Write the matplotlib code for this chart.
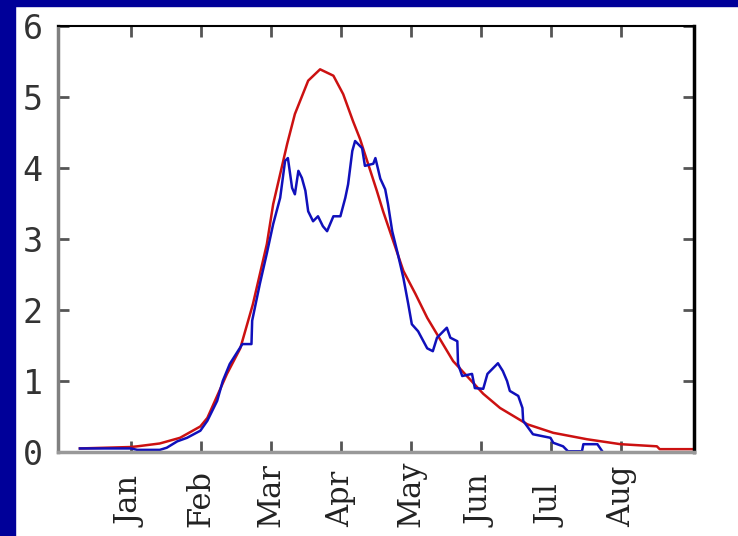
import matplotlib
matplotlib.use("Agg")
import matplotlib.pyplot as plt
from matplotlib.patches import Rectangle

#
# Datos (x en meses, 1 = Jan)
#
months = ["Jan", "Feb", "Mar", "Apr", "May", "Jun", "Jul", "Aug"]
month_pos = [1, 2, 3, 4, 5, 6, 7, 8]
y_ticks = [0, 1, 2, 3, 4, 5, 6]

fit_x = [0.27, 0.99, 1.09, 1.41, 1.70, 1.99, 2.09, 2.37, 2.56, 2.74, 2.94,
         3.03, 3.23, 3.34, 3.53, 3.70, 3.89, 4.03, 4.17, 4.27, 4.51, 4.60,
         4.89, 5.06, 5.23, 5.60, 6.03, 6.27, 6.66, 7.03, 7.51, 7.99, 8.51,
         8.55, 9.04]
fit_y = [0.05, 0.07, 0.08, 0.12, 0.20, 0.36, 0.48, 1.10, 1.46, 2.08, 2.93,
         3.49, 4.34, 4.76, 5.23, 5.39, 5.30, 5.04, 4.66, 4.41, 3.68, 3.39,
         2.55, 2.23, 1.89, 1.28, 0.82, 0.62, 0.39, 0.27, 0.18, 0.11, 0.08,
         0.04, 0.04]

obs_x = [0.27, 1.00, 1.09, 1.41, 1.51, 1.66, 1.80, 1.99, 2.09, 2.23, 2.31,
         2.41, 2.59, 2.72, 2.73, 2.84, 2.94, 3.03, 3.13, 3.20, 3.24, 3.30,
         3.34, 3.39, 3.44, 3.49, 3.53, 3.60, 3.67, 3.74, 3.80, 3.89, 3.99,
         4.06, 4.10, 4.16, 4.20, 4.30, 4.34, 4.46, 4.49, 4.56, 4.63, 4.67,
         4.73, 4.81, 4.89, 4.96, 5.01, 5.10, 5.23, 5.31, 5.37, 5.46, 5.51,
         5.56, 5.66, 5.67, 5.73, 5.87, 5.91, 6.03, 6.09, 6.17, 6.24, 6.31,
         6.37, 6.41, 6.53, 6.59, 6.60, 6.74, 6.99, 7.03, 7.17, 7.24, 7.44,
         7.46, 7.66, 7.73]
obs_y = [0.05, 0.05, 0.03, 0.03, 0.06, 0.15, 0.20, 0.30, 0.44, 0.72, 1.00,
         1.24, 1.52, 1.52, 1.85, 2.37, 2.80, 3.21, 3.58, 4.10, 4.14, 3.72,
         3.63, 3.96, 3.86, 3.68, 3.39, 3.25, 3.32, 3.18, 3.11, 3.32, 3.32,
         3.58, 3.77, 4.24, 4.38, 4.28, 4.03, 4.06, 4.14, 3.85, 3.70, 3.49,
         3.11, 2.79, 2.45, 2.08, 1.80, 1.70, 1.46, 1.42, 1.61, 1.70, 1.75,
         1.61, 1.56, 1.24, 1.07, 1.10, 0.90, 0.89, 1.10, 1.18, 1.25, 1.14,
         1.00, 0.86, 0.79, 0.62, 0.44, 0.25, 0.20, 0.13, 0.08, 0.01, 0.01,
         0.11, 0.11, 0.01]

fig = plt.figure(figsize=(7.38, 5.36), dpi=100, facecolor="white")

# marco azul (arriba e izquierda)
fig.patches.append(Rectangle((0, 1 - 6 / 536), 1, 6 / 536, transform=fig.transFigure,
                             color="#000099", zorder=0))
fig.patches.append(Rectangle((0, 0), 15 / 738, 1, transform=fig.transFigure,
                             color="#000099", zorder=0))

ax = fig.add_axes([58 / 738, 1 - 452 / 536, (694 - 58) / 738, (452 - 26) / 536])

ax.plot(fit_x, fit_y, color="#cc1111", lw=1.8)
ax.plot(obs_x, obs_y, color="#1010bb", lw=1.8)

ax.set_xlim(-0.043, 9.04)
ax.set_ylim(0, 6)

# etiquetas de meses, alineadas por su inicio (abajo)
ax.set_xticks(month_pos)
ax.set_xticklabels([])
for pos, name in zip(month_pos, months):
    ax.text(pos, -0.176, name, transform=ax.get_xaxis_transform(),
            rotation=90, rotation_mode="anchor", ha="left", va="center",
            family="DejaVu Serif", fontsize=22, color="#222222")

ax.set_yticks(y_ticks)
ax.set_yticklabels([str(v) for v in y_ticks], family="DejaVu Sans Mono",
                   fontsize=24, color="#333333")

ax.tick_params(axis="both", direction="in", length=8, width=2,
               top=True, right=True, colors="#555555")
ax.tick_params(axis="y", pad=11, labelcolor="#333333")

ax.spines["left"].set_color("#808080")
ax.spines["left"].set_linewidth(2.5)
ax.spines["bottom"].set_color("#999999")
ax.spines["bottom"].set_linewidth(2.5)
ax.spines["top"].set_color("black")
ax.spines["top"].set_linewidth(1.5)
ax.spines["right"].set_color("black")
ax.spines["right"].set_linewidth(2.5)

fig.savefig("out.png", dpi=100, facecolor="white")
